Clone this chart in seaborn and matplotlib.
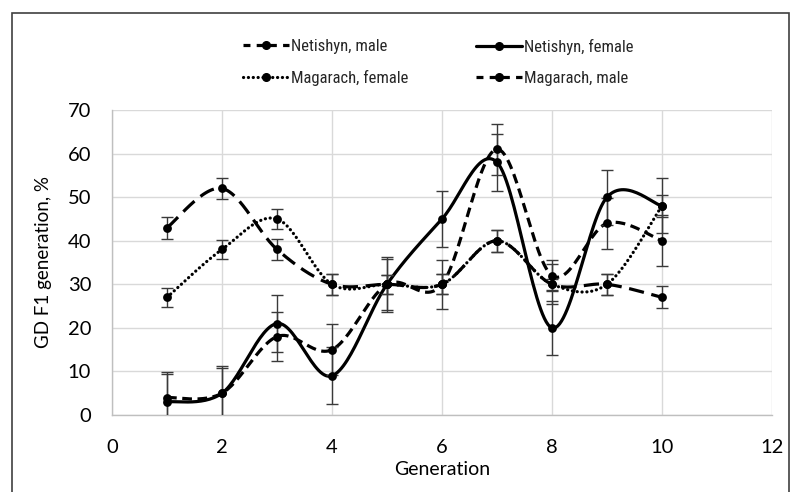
import numpy as np
import pandas as pd
import matplotlib
matplotlib.use("Agg")
import matplotlib.pyplot as plt
from matplotlib.lines import Line2D
from matplotlib.patches import Rectangle
from matplotlib import font_manager
import seaborn as sns

# ---- data ----
generation = [1, 2, 3, 4, 5, 6, 7, 8, 9, 10]
netishyn_male = [4, 5, 18, 15, 30, 30, 61, 32, 44, 40]
netishyn_male_err = [5.8, 5.8, 5.7, 5.8, 5.9, 5.6, 5.9, 3.6, 5.8, 5.8]
netishyn_female = [3, 5, 21, 9, 30, 45, 58, 20, 50, 48]
netishyn_female_err = [6.5, 6.3, 6.5, 6.5, 6.3, 6.5, 6.5, 6.2, 6.3, 6.3]
magarach_female = [27, 38, 45, 30, 30, 30, 40, 30, 30, 48]
magarach_female_err = [2.2, 2.2, 2.3, 2.4, 2.2, 2.3, 2.5, 4.6, 2.4, 2.5]
magarach_male = [43, 52, 38, 30, 30, 30, 40, 30, 30, 27]
magarach_male_err = [2.5, 2.5, 2.4, 2.4, 2.2, 2.3, 2.5, 1.3, 2.4, 2.5]

series_names = ["Netishyn, male", "Netishyn, female", "Magarach, female", "Magarach, male"]
x_ticks = [0, 2, 4, 6, 8, 10, 12]
y_ticks = [0, 10, 20, 30, 40, 50, 60, 70]

sns.set_theme(style="whitegrid")
plt.rcParams["font.family"] = ["Lato", "DejaVu Sans"]
plt.rcParams["lines.scale_dashes"] = False

installed = {f.name for f in font_manager.fontManager.ttflist}
legend_family = "Lato"
legend_size = 11
for cand, sz in [("Liberation Sans Narrow", 12), ("DejaVu Sans Condensed", 11.5), ("Roboto Condensed", 12)]:
    if cand in installed:
        legend_family, legend_size = cand, sz
        break


def smooth(xs, ys, n=30):
    """Excel-like smoothed line (Catmull-Rom Bezier) through the data points."""
    P = np.column_stack([xs, ys]).astype(float)
    pts = [P[0]]
    for i in range(len(P) - 1):
        p0 = P[i - 1] if i > 0 else P[i]
        p1 = P[i]
        p2 = P[i + 1]
        p3 = P[i + 2] if i + 2 < len(P) else P[i + 1]
        b1 = p1 + (p2 - p0) / 6.0
        b2 = p2 - (p3 - p1) / 6.0
        t = np.linspace(0, 1, n)[1:, None]
        seg = ((1 - t) ** 3) * p1 + 3 * ((1 - t) ** 2) * t * b1 + 3 * (1 - t) * t ** 2 * b2 + t ** 3 * p2
        pts.extend(seg)
    pts = np.array(pts)
    return pts[:, 0], pts[:, 1]


fig = plt.figure(figsize=(7.94, 4.92), dpi=100)
ax = fig.add_axes([112 / 794, 1 - 415 / 492, (772 - 112) / 794, (415 - 110) / 492])

styles = {
    "Netishyn, male": dict(dashes=(7, 4), dash_capstyle="butt"),
    "Netishyn, female": dict(linestyle="-"),
    "Magarach, female": dict(dashes=(0.1, 3.4), dash_capstyle="round"),
    "Magarach, male": dict(dashes=(11, 5.5), dash_capstyle="butt"),
}
values = {
    "Netishyn, male": (netishyn_male, netishyn_male_err),
    "Netishyn, female": (netishyn_female, netishyn_female_err),
    "Magarach, female": (magarach_female, magarach_female_err),
    "Magarach, male": (magarach_male, magarach_male_err),
}

lw = 2.3
handles = {}
for name in series_names:
    vals, err = values[name]
    sx, sy = smooth(generation, vals)
    ax.plot(sx, sy, color="black", lw=lw, zorder=3, **styles[name])
    ax.errorbar(generation, vals, yerr=err, fmt="none", ecolor="#3a3a3a",
                elinewidth=1.0, capsize=4.5, capthick=1.0, zorder=4)
    df = pd.DataFrame({"Generation": generation, "value": vals})
    sns.scatterplot(data=df, x="Generation", y="value", ax=ax, color="black",
                    s=40, edgecolor="black", linewidth=0, zorder=5, legend=False)
    hstyle = dict(styles[name])
    if name in ("Netishyn, male", "Magarach, male"):
        hstyle = dict(dashes=(5, 4.5), dash_capstyle="butt")
    handles[name] = Line2D([], [], color="black", lw=lw, marker="o", markersize=5.5, **hstyle)

ax.set_xlim(0, 12)
ax.set_ylim(0, 70)
ax.set_xticks(x_ticks)
ax.set_yticks(y_ticks)
ax.grid(True, color="#d9d9d9", lw=1.0)
for s in ["top", "right"]:
    ax.spines[s].set_visible(False)
for s in ["left", "bottom"]:
    ax.spines[s].set_color("#bfbfbf")
    ax.spines[s].set_linewidth(1.0)
ax.tick_params(axis="both", length=0, labelsize=14.5, colors="black")
ax.tick_params(axis="x", pad=17)
ax.tick_params(axis="y", pad=15)
ax.set_xlabel("Generation", fontsize=14, color="black", labelpad=4)
ax.set_ylabel("GD F1 generation, %", fontsize=13.5, color="black", labelpad=11)

# legend: two columns placed independently
handle_px = 44
legend_columns = [(["Netishyn, male", "Magarach, female"], 243),
                  (["Netishyn, female", "Magarach, male"], 476)]
for names, x0 in legend_columns:
    hl = handle_px * 0.75 / legend_size
    leg = fig.legend([handles[n] for n in names], names, ncol=1, frameon=False,
                     loc="upper left", bbox_to_anchor=(x0 / 794, 1 - 39 / 492),
                     borderaxespad=0, borderpad=0, handlelength=hl, handletextpad=0.12,
                     labelspacing=0.95,
                     prop={"family": [legend_family, "DejaVu Sans"], "size": legend_size})

fig.patches.append(Rectangle((12 / 794, -0.05), (789 - 12) / 794, 1.05 - 13 / 492,
                             transform=fig.transFigure, fill=False,
                             edgecolor="#404040", lw=1.2))

fig.savefig("out.png", dpi=100, facecolor="white")
